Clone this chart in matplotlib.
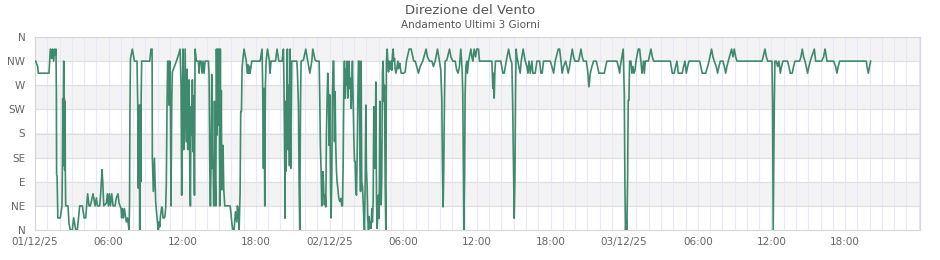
import matplotlib
matplotlib.use("Agg")
import matplotlib.pyplot as plt
import numpy as np

# ---- data: hours since 01/12/25 00:00 and wind direction in degrees ----
day1_hours = [0.05, 0.22, 0.27, 1.14, 1.25, 1.36, 1.41, 1.52, 1.58, 1.66, 1.71, 1.74, 1.76, 1.80, 1.86, 2.06,
              2.20, 2.23, 2.26, 2.28, 2.34, 2.36, 2.39, 2.42, 2.45, 2.47, 2.50, 2.69, 2.77, 2.88, 3.04, 3.15,
              3.23, 3.32, 3.45, 3.64, 3.86, 4.00, 4.13, 4.29, 4.40, 4.51, 4.73, 4.89, 5.00, 5.08, 5.27, 5.35,
              5.46, 5.52, 5.60, 5.81, 5.90, 5.98, 6.06, 6.14, 6.25, 6.36, 6.52, 6.63, 6.76, 6.85, 6.93, 7.01,
              7.06, 7.12, 7.20, 7.28, 7.36, 7.44, 7.53, 7.61, 7.66, 7.70, 7.74, 7.78, 7.93, 8.10, 8.31, 8.37,
              8.42, 8.45, 8.48, 8.50, 8.53, 8.59, 8.61, 8.64, 8.69, 9.35, 9.45, 9.54, 9.56, 9.64, 9.73, 9.78,
              9.83, 9.92, 10.00, 10.05, 10.11, 10.16, 10.22, 10.27, 10.32, 10.38, 10.43, 10.54, 10.60, 10.65,
              10.70, 10.76, 10.81, 10.87, 10.92, 10.98, 11.03, 11.08, 11.14, 11.19, 11.41, 11.55, 11.68, 11.82,
              11.90, 11.95, 12.01, 12.06, 12.12, 12.17, 12.23, 12.28, 12.33, 12.39, 12.44, 12.50, 12.55, 12.61,
              12.66, 12.71, 12.77, 12.82, 12.88, 12.93, 12.99, 13.04, 13.15, 13.31, 13.37, 13.42, 13.53, 13.61,
              13.69, 13.77, 13.86, 14.13, 14.18, 14.24, 14.29, 14.34, 14.40, 14.45, 14.51, 14.56, 14.62, 14.67,
              14.73, 14.78, 14.83, 14.89, 14.94, 15.00, 15.05, 15.10, 15.13, 15.18, 15.22, 15.27, 15.32, 15.38,
              15.46, 15.89, 15.95, 16.03, 16.11, 16.22, 16.27, 16.33, 16.38, 16.44, 16.49, 16.57, 16.63, 16.71,
              16.76, 16.82, 16.87, 16.92, 17.03, 17.20, 17.25, 17.31, 17.36, 17.41, 17.47, 17.52, 17.66, 18.34,
              18.50, 18.55, 18.61, 18.66, 18.72, 18.77, 18.83, 18.94, 19.10, 19.15, 19.23, 19.59, 19.72, 19.86,
              20.13, 20.24, 20.29, 20.35, 20.37, 20.40, 20.46, 20.51, 20.56, 20.62, 20.67, 20.73, 20.78, 20.84,
              20.92, 21.33, 21.38, 21.46, 21.52, 21.57, 21.63, 21.68, 21.87, 22.06, 22.22, 22.39, 22.55, 22.63,
              22.82, 22.93, 23.15, 23.20, 23.25, 23.31, 23.36, 23.42, 23.47, 23.53, 23.58, 23.64, 23.69, 23.74,
              23.80, 23.85, 23.91, 23.96]
day1_dirs = [315, 305, 292.5, 292.5, 337.5, 320, 337.5, 315, 337.5, 326, 337.5, 258, 103, 100, 22.5, 22.5,
             45, 112, 245, 130, 315, 120, 245, 112, 240, 110, 45, 45, 12, 0, 0, 22.5,
             12, 0, 0, 45, 45, 22.5, 22.5, 67.5, 45, 45, 67.5, 45, 60, 45, 45, 67.5,
             112.5, 90, 45, 50, 67.5, 45, 67.5, 45, 67.5, 45, 45, 60, 67.5, 50, 45, 40,
             22.5, 40, 22.5, 40, 28, 15, 22.5, 10, 0, 45, 240, 320, 337.5, 315, 315, 233,
             78, 230, 78, 233, 0, 233, 90, 233, 315, 315, 337.5, 337.5, 134, 72, 134, 90,
             53, 28, 9, 0, 15, 6, 25, 34, 43, 40, 22.5, 22.5, 28, 43,
             90, 240, 315, 315, 233, 315, 240, 45, 240, 295, 308, 317, 326, 337.5,
             270, 65, 240, 337.5, 150, 165, 337.5, 250, 165, 300, 150, 177, 280, 110,
             45, 230, 177, 280, 146, 250, 65, 337.5, 315, 315, 292.5, 315, 315, 292.5,
             315, 292.5, 315, 315, 290, 115, 45, 120, 290, 115, 128, 45, 240, 103,
             45, 337.5, 177, 337.5, 196, 337.5, 45, 337.5, 120, 260, 75, 125, 158, 75,
             45, 45, 34, 15, 0, 0, 15, 34, 25, 15, 45, 34, 0, 71,
             221, 221, 301, 315, 337.5, 317, 305, 292.5, 308, 292.5, 305, 292.5, 315, 315,
             337.5, 264, 115, 264, 45, 270, 315, 337.5, 315, 292.5, 315, 315, 337.5, 315,
             315, 337.5, 258, 103, 22, 240, 110, 250, 337.5, 150, 270, 120, 337.5, 115,
             315, 315, 295, 233, 78, 0, 240, 315, 317, 337.5, 315, 292.5, 315, 337.5,
             317, 315, 315, 245, 158, 109, 45, 72, 109, 65, 47, 65, 43, 177,
             246, 292.5, 252, 158]

day2_hours = [24.02, 24.07, 24.12, 24.18, 24.23, 24.29, 24.34, 24.40, 24.45, 24.50, 24.56, 24.61, 24.67, 24.72,
              24.78, 24.86, 24.94, 24.99, 25.05, 25.10, 25.16, 25.21, 25.27, 25.32, 25.37, 25.43, 25.48, 25.54,
              25.59, 25.65, 25.70, 25.75, 25.81, 25.86, 25.92, 25.97, 26.03, 26.08, 26.14, 26.19, 26.24, 26.30,
              26.35, 26.41, 26.46, 26.52, 26.57, 26.62, 26.68, 26.73, 26.79, 26.84, 26.90, 26.95, 27.00, 27.06,
              27.11, 27.17, 27.22, 27.28, 27.33, 27.38, 27.44, 27.49, 27.55, 27.60, 27.66, 27.71, 27.77, 27.82,
              27.87, 27.93, 27.98, 28.04, 28.09, 28.15, 28.20, 28.25, 28.31, 28.36, 28.42, 28.47, 28.53, 28.58,
              28.63, 28.69, 28.74, 28.80, 28.85, 28.96, 29.01, 29.07, 29.12, 29.18, 29.23, 29.29, 29.34, 29.40,
              29.48, 29.56, 29.61, 29.67, 29.72, 29.78, 29.83, 30.05, 30.16, 30.26, 30.48, 30.64, 30.86, 30.97,
              31.10, 31.24, 31.38, 31.59, 31.86, 31.97, 32.14, 32.33, 32.46, 32.60, 32.79, 32.95, 33.06, 33.14,
              33.20, 33.25, 33.30, 33.36, 33.41, 33.55, 33.77, 33.88, 34.04, 34.23, 34.36, 34.47, 34.58, 34.69,
              34.75, 34.80, 34.85, 34.91, 34.93, 34.99, 35.04, 35.10, 35.18, 35.23, 35.32, 35.51, 35.59, 35.67,
              35.78, 35.89, 35.99, 36.13, 36.21, 37.22, 37.30, 37.36, 37.41, 37.47, 37.52, 37.95, 38.12, 38.23,
              38.39, 38.58, 38.72, 38.85, 38.91, 38.99, 39.04, 39.10, 39.15, 39.20, 39.26, 39.42, 39.53, 39.61,
              39.77, 39.91, 40.07, 40.16, 40.24, 40.35, 40.48, 40.56, 40.75, 40.89, 41.11, 41.22, 41.32, 41.43,
              41.98, 42.11, 42.25, 42.38, 42.63, 42.74, 42.85, 42.95, 43.06, 43.23, 43.33, 43.44, 43.55, 43.77,
              43.88, 43.99, 44.29, 44.48, 44.58, 44.69, 44.91, 45.02, 45.13, 45.24, 45.37, 45.51, 45.73, 45.83,
              45.94, 46.38, 46.49, 46.59, 47.41, 47.52, 47.63, 47.68, 47.92]
day2_dirs = [252, 96, 22.5, 103, 246, 315, 315, 165, 258, 158, 109, 90, 78, 65,
             56, 53, 59, 45, 45, 115, 264, 315, 246, 301, 270, 315, 246, 289,
             315, 264, 283, 227, 264, 315, 240, 177, 128, 128, 72, 65, 128, 240,
             315, 315, 165, 72, 315, 90, 81, 53, 22, 0, 84, 233, 115, 81,
             22, 0, 25, 3, 15, 3, 40, 15, 53, 230, 227, 115, 276, 65,
             3, 28, 65, 22, 240, 115, 47, 96, 295, 315, 240, 270, 84, 0,
             315, 337.5, 315, 295, 315, 300, 315, 298, 326, 337.5, 315, 320, 301, 292.5,
             301, 315, 301, 308, 311, 301, 292.5, 292.5, 295, 315, 337.5, 337.5, 315, 315,
             305, 292.5, 305, 315, 337.5, 323, 315, 315, 305, 315, 337.5, 315, 298, 245,
             112, 43, 112, 245, 315, 317, 337.5, 323, 315, 315, 298, 292.5, 305, 337.5,
             315, 298, 255, 87, 0, 87, 252, 305, 315, 292.5, 315, 337.5, 323, 315,
             337.5, 323, 337.5, 337.5, 315, 315, 264, 292.5, 246, 298, 315, 315, 292.5, 292.5,
             315, 337.5, 320, 311, 242, 99, 22, 99, 258, 337.5, 323, 305, 292.5, 315,
             337.5, 318, 305, 292.5, 315, 292.5, 315, 292.5, 292.5, 315, 315, 292.5, 292.5, 315,
             315, 305, 292.5, 315, 337.5, 337.5, 315, 292.5, 305, 315, 305, 292.5, 305, 337.5,
             323, 315, 315, 337.5, 323, 315, 315, 298, 267, 292.5, 305, 315, 315, 305,
             292.5, 292.5, 305, 315, 315, 305, 292.5, 305, 337.5]

day3_hours = [48.01, 48.06, 48.11, 48.17, 48.22, 48.28, 48.33, 48.39, 48.44, 48.55, 48.63, 48.71, 48.79, 48.88,
              48.96, 49.15, 49.26, 49.36, 49.45, 49.53, 49.58, 49.64, 49.72, 49.96, 50.18, 50.29, 50.40, 51.76,
              51.92, 52.08, 52.19, 52.30, 52.41, 52.73, 52.84, 52.95, 53.06, 53.17, 53.28, 54.15, 54.36, 54.64,
              54.80, 54.91, 55.12, 55.23, 55.34, 55.50, 55.61, 55.72, 55.83, 56.05, 56.16, 56.27, 56.37, 56.48,
              56.75, 56.86, 56.97, 57.08, 57.19, 59.23, 59.47, 59.58, 59.69, 60.04, 60.09, 60.12, 60.14, 60.17,
              60.23, 60.28, 60.39, 60.50, 60.61, 60.72, 60.82, 60.93, 61.31, 61.42, 61.53, 61.69, 61.80, 61.91,
              62.29, 62.40, 62.51, 62.62, 62.73, 62.83, 62.94, 63.05, 63.16, 63.27, 63.49, 63.60, 64.08, 64.25,
              64.36, 64.41, 64.52, 65.06, 65.23, 65.33, 65.44, 65.55, 67.72, 67.78, 67.89, 67.99, 68.08]
day3_dirs = [252, 87, 0, 18, 0, 99, 242, 242, 315, 315, 292.5, 305, 292.5, 298,
             315, 337.5, 337.5, 315, 292.5, 305, 315, 292.5, 315, 315, 337.5, 323, 315, 315,
             292.5, 292.5, 305, 315, 292.5, 292.5, 305, 315, 292.5, 305, 315, 315, 292.5, 292.5,
             305, 315, 337.5, 323, 315, 305, 292.5, 305, 315, 315, 305, 292.5, 305, 315,
             337.5, 323, 337.5, 323, 315, 315, 337.5, 323, 315, 315, 236, 81, 0, 81,
             236, 315, 315, 305, 315, 292.5, 305, 315, 315, 305, 292.5, 292.5, 305, 315,
             315, 323, 337.5, 323, 315, 305, 292.5, 305, 315, 323, 337.5, 315, 315, 323,
             337.5, 332, 315, 315, 305, 292.5, 305, 315, 315, 305, 292.5, 305, 315]

dir_ticks = [0, 45, 90, 135, 180, 225, 270, 315, 360]
dir_labels = ["N", "NE", "E", "SE", "S", "SW", "W", "NW", "N"]
time_ticks = [0, 6, 12, 18, 24, 30, 36, 42, 48, 54, 60, 66]
time_labels = ["01/12/25", "06:00", "12:00", "18:00", "02/12/25", "06:00", "12:00", "18:00",
               "03/12/25", "06:00", "12:00", "18:00"]
x_end = 72.1

title = "Direzione del Vento"
subtitle = "Andamento Ultimi 3 Giorni"

hours = np.array(day1_hours + day2_hours + day3_hours)
dirs = np.array(day1_dirs + day2_dirs + day3_dirs)

# ---- figure ----
W, H = 940, 260
fig = plt.figure(figsize=(W / 100, H / 100), dpi=100)
ax = fig.add_axes([35 / W, 1 - 230 / H, (920 - 35) / W, (230 - 37) / H])

ax.set_xlim(0, x_end)
ax.set_ylim(dir_ticks[0], dir_ticks[-1])

# alternating bands
for i in range(1, len(dir_ticks) - 1, 2):
    ax.axhspan(dir_ticks[i], dir_ticks[i + 1], color="#f3f3f3", zorder=0, lw=0)

# hourly vertical grid
for h in np.arange(1, x_end, 1.0):
    ax.axvline(h, color="#e8e8f8", lw=0.8, zorder=1)
# horizontal grid
for t in dir_ticks[1:-1]:
    ax.axhline(t, color="#e0e0e0", lw=0.9, zorder=1)

ax.plot(hours, dirs, color="#3f8a6e", lw=1.2, zorder=3)

ax.set_yticks(dir_ticks)
ax.set_yticklabels(dir_labels)
ax.set_xticks(time_ticks)
ax.set_xticklabels(time_labels)
ax.tick_params(axis="both", length=0, labelsize=7.5, labelcolor="#666666")
ax.tick_params(axis="y", pad=7)
ax.tick_params(axis="x", pad=5)

for s in ax.spines.values():
    s.set_color("#d8d8d8")
    s.set_linewidth(0.9)

fig.text(0.5, 1 - 10 / H, title, ha="center", va="center", fontsize=9.5, color="#555555")
fig.text(0.5, 1 - 25 / H, subtitle, ha="center", va="center", fontsize=7.5, color="#555555")

fig.savefig("out.png", dpi=100)
